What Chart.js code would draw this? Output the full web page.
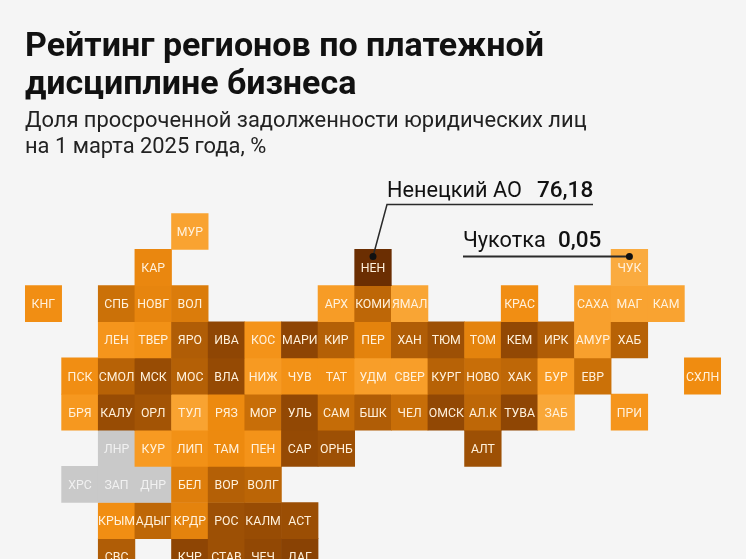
<!DOCTYPE html>
<html lang="ru">
<head>
<meta charset="utf-8">
<title>Рейтинг регионов</title>
<script src="https://cdn.jsdelivr.net/npm/chart.js@4"></script>
<style>
    html, body { margin: 0; padding: 0; background: #f5f5f5; overflow: hidden; }
    #page { position: relative; width: 746px; height: 559px; overflow: hidden; font-family: Roboto, sans-serif; color: #111; }
    canvas { position: absolute; left: 0; top: 0; }
    h1 { position: absolute; left: 25px; top: 25px; margin: 0; font-size: 34px; line-height: 38px; font-weight: 700; white-space: nowrap; }
    p { position: absolute; left: 25px; top: 107px; margin: 0; font-size: 21.9px; line-height: 25.5px; font-weight: 400; color: #222; white-space: nowrap; }
</style>
</head>
<body>
<div id="page">
    <canvas id="map" width="746" height="559"></canvas>
    <h1>Рейтинг регионов по платежной<br>дисциплине бизнеса</h1>
    <p>Доля просроченной задолженности юридических лиц<br>на 1 марта 2025 года, %</p>
</div>
<script>
const _ = null;

// one slot per map column, one line per map row
const columns = ['0','1','2','3','4','5','6','7','8','9','10','11','12','13','14','15','16','17','18'];

const row0Codes = [_,_,_,_,'МУР',_,_,_,_,_,_,_,_,_,_,_,_,_,_];
const row1Codes = [_,_,_,'КАР',_,_,_,_,_,'НЕН',_,_,_,_,_,_,'ЧУК',_,_];
const row2Codes = ['КНГ',_,'СПБ','НОВГ','ВОЛ',_,_,_,'АРХ','КОМИ','ЯМАЛ',_,_,'КРАС',_,'САХА','МАГ','КАМ',_];
const row3Codes = [_,_,'ЛЕН','ТВЕР','ЯРО','ИВА','КОС','МАРИ','КИР','ПЕР','ХАН','ТЮМ','ТОМ','КЕМ','ИРК','АМУР','ХАБ',_,_];
const row4Codes = [_,'ПСК','СМОЛ','МСК','МОС','ВЛА','НИЖ','ЧУВ','ТАТ','УДМ','СВЕР','КУРГ','НОВО','ХАК','БУР','ЕВР',_,_,'СХЛН'];
const row5Codes = [_,'БРЯ','КАЛУ','ОРЛ','ТУЛ','РЯЗ','МОР','УЛЬ','САМ','БШК','ЧЕЛ','ОМСК','АЛ.К','ТУВА','ЗАБ',_,'ПРИ',_,_];
const row6Codes = [_,_,'ЛНР','КУР','ЛИП','ТАМ','ПЕН','САР','ОРНБ',_,_,_,'АЛТ',_,_,_,_,_,_];
const row7Codes = [_,'ХРС','ЗАП','ДНР','БЕЛ','ВОР','ВОЛГ',_,_,_,_,_,_,_,_,_,_,_,_];
const row8Codes = [_,_,'КРЫМ','АДЫГ','КРДР','РОС','КАЛМ','АСТ',_,_,_,_,_,_,_,_,_,_,_];
const row9Codes = [_,_,'СВС',_,'КЧР','СТАВ','ЧЕЧ','ДАГ',_,_,_,_,_,_,_,_,_,_,_];

// shares estimated from tile shades, only 76.18 and 0.05 are printed
const row0Values = [_,_,_,_,4,_,_,_,_,_,_,_,_,_,_,_,_,_,_];
const row1Values = [_,_,_,16,_,_,_,_,_,76.18,_,_,_,_,_,_,0.05,_,_];
const row2Values = [13,_,26,17,21,_,_,_,7,30,3,_,_,13,_,5,4,4,_];
const row3Values = [_,_,10,12,34,45,11,46,33,18,34,40,18,44,34,5,32,_,_];
const row4Values = [_,13,32,42,33,43,8,12,12,6,6,32,27,30,8,26,_,_,14];
const row5Values = [_,9,42,38,4,15,27,44,28,34,27,44,30,45,2,_,10,_,_];
const row6Values = [_,_,_,8,12,15,11,43,40,_,_,_,40,_,_,_,_,_,_];
const row7Values = [_,_,_,_,20,33,31,_,_,_,_,_,_,_,_,_,_,_,_];
const row8Values = [_,_,13,30,18,40,42,41,_,_,_,_,_,_,_,_,_,_,_];
const row9Values = [_,_,34,_,46,40,44,50,_,_,_,_,_,_,_,_,_,_,_];

const codeRows = [row0Codes, row1Codes, row2Codes, row3Codes, row4Codes, row5Codes, row6Codes, row7Codes, row8Codes, row9Codes];
const valueRows = [row0Values, row1Values, row2Values, row3Values, row4Values, row5Values, row6Values, row7Values, row8Values, row9Values];

const shadeStops = [
    [0, [250, 171, 63]],
    [8, [247, 154, 34]],
    [14, [240, 140, 16]],
    [20, [222, 126, 12]],
    [28, [197, 108, 7]],
    [36, [169, 88, 5]],
    [45, [143, 70, 4]],
    [76.18, [107, 46, 2]]
];

function shadeFor(value) {
    if (value === null) return '#c9c9c9';
    for (let i = 1; i < shadeStops.length; i++) {
        const [v0, c0] = shadeStops[i - 1];
        const [v1, c1] = shadeStops[i];
        if (value <= v1) {
            const t = (value - v0) / (v1 - v0);
            return 'rgb(' + c0.map((c, k) => Math.round(c + (c1[k] - c) * t)).join(',') + ')';
        }
    }
    return 'rgb(107,46,2)';
}

// region codes in the tiles
const tileLabels = {
    id: 'tileLabels',
    afterDatasetsDraw(chart) {
        const ctx = chart.ctx;
        ctx.save();
        ctx.font = '400 12.3px Roboto';
        ctx.textAlign = 'center';
        ctx.textBaseline = 'middle';
        codeRows.forEach((codes, r) => {
            const bars = chart.getDatasetMeta(r).data;
            codes.forEach((code, c) => {
                if (code === null) return;
                ctx.fillStyle = valueRows[r][c] === null ? '#f1f1f1' : '#fff1dc';
                ctx.fillText(code, bars[c].x, (bars[c].y + bars[c].base) / 2 + 1.5);
            });
        });
        ctx.restore();
    }
};

// the two callouts, hooked to the centre top of their tiles
const callouts = {
    id: 'callouts',
    afterDraw(chart) {
        const ctx = chart.ctx;
        const nen = chart.getDatasetMeta(1).data[9];
        const chu = chart.getDatasetMeta(1).data[16];
        const dotY = nen.base + 7;

        ctx.save();
        ctx.strokeStyle = '#2a2a2a';
        ctx.fillStyle = '#111';
        ctx.textBaseline = 'alphabetic';

        ctx.lineWidth = 1.5;
        ctx.beginPath();
        ctx.moveTo(593, 204.5);
        ctx.lineTo(387, 204.5);
        ctx.lineTo(nen.x, dotY);
        ctx.stroke();

        ctx.lineWidth = 2;
        ctx.beginPath();
        ctx.moveTo(463, dotY);
        ctx.lineTo(chu.x, dotY);
        ctx.stroke();

        ctx.beginPath();
        ctx.arc(nen.x, dotY, 3.5, 0, Math.PI * 2);
        ctx.arc(chu.x, dotY, 3.5, 0, Math.PI * 2);
        ctx.fill();

        ctx.textAlign = 'left';
        ctx.font = '400 21.7px Roboto';
        ctx.fillText('Ненецкий АО', 387, 197);
        ctx.fillText('Чукотка', 463, 247);
        ctx.font = '500 22.5px Roboto';
        ctx.fillText('76,18', 537, 197);
        ctx.fillText('0,05', 558, 247);
        ctx.restore();
    }
};

const datasets = codeRows.map((codes, r) => ({
    label: 'row ' + r,
    data: codes.map(code => (code === null ? null : [r, r + 1])),
    backgroundColor: valueRows[r].map(shadeFor),
    borderWidth: 0,
    barPercentage: 1,
    categoryPercentage: 1,
    grouped: false
}));

new Chart(document.getElementById('map'), {
    type: 'bar',
    data: { labels: columns, datasets: datasets },
    plugins: [tileLabels, callouts],
    options: {
        responsive: false,
        animation: false,
        layout: { padding: { left: 25, right: 25, top: 213.3, bottom: 0 } },
        plugins: { legend: { display: false }, title: { display: false }, tooltip: { enabled: false } },
        scales: {
            x: { display: false, stacked: true },
            y: { display: false, reverse: true, min: 0, max: 9.563 }
        }
    }
});
</script>
</body>
</html>
